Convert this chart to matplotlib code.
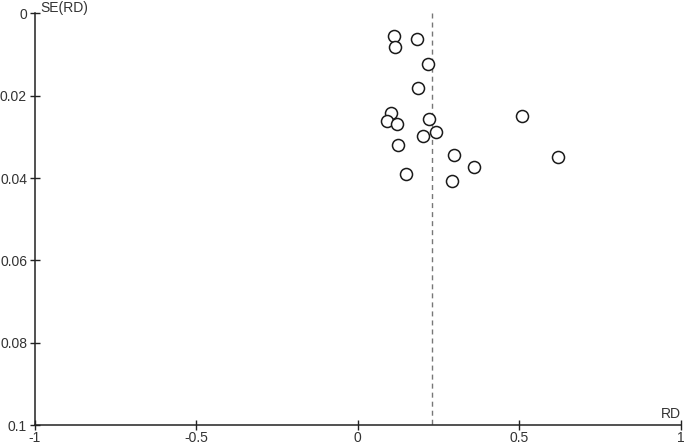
import matplotlib
matplotlib.use("Agg")
import matplotlib.pyplot as plt

plt.rcParams['font.family'] = ['Liberation Sans', 'DejaVu Sans']

rd = [0.111, 0.116, 0.183, 0.216, 0.186, 0.104, 0.089, 0.122, 0.219,
      0.508, 0.242, 0.202, 0.125, 0.299, 0.621, 0.360, 0.148, 0.292]
se = [0.0054, 0.0081, 0.0063, 0.0123, 0.0182, 0.0241, 0.0262, 0.0268, 0.0256,
      0.0250, 0.0287, 0.0298, 0.0320, 0.0343, 0.0349, 0.0372, 0.0389, 0.0407]
pooled_rd = 0.229
xticks = [-1, -0.5, 0, 0.5, 1]
xticklabels = ['-1', '-0.5', '0', '0.5', '1']
yticks = [0, 0.02, 0.04, 0.06, 0.08, 0.1]
yticklabels = ['0', '0.02', '0.04', '0.06', '0.08', '0.1']

fig = plt.figure(figsize=(6.85, 4.47), dpi=100)
ax = fig.add_axes([0.0507, 0.0492, 0.9433, 0.9208])

ax.plot([pooled_rd, pooled_rd], [0, 0.1], color='#777777', lw=1.0,
        dashes=(3.6, 2.9))
ax.scatter(rd, se, s=75, facecolors='white', edgecolors='#1a1a1a',
           linewidths=1.1, zorder=3)

ax.set_xlim(-1, 1)
ax.set_ylim(0.1, 0)
ax.set_xticks(xticks)
ax.set_xticklabels(xticklabels)
ax.set_yticks(yticks)
ax.set_yticklabels(yticklabels)
for s in ['top', 'right']:
    ax.spines[s].set_visible(False)
for s in ['left', 'bottom']:
    ax.spines[s].set_color('#222222')
    ax.spines[s].set_linewidth(1.1)
ax.tick_params(direction='inout', length=7, width=1.0, color='#222222',
               labelsize=10, labelcolor='#333333')
ax.tick_params(axis='x', pad=0.5)
ax.tick_params(axis='y', pad=2)

ax.annotate('SE(RD)', xy=(0, 1), xycoords='axes fraction',
            xytext=(4, 4), textcoords='offset points', fontsize=10,
            color='#333333', ha='left', va='center')
ax.annotate('RD', xy=(1, 0), xycoords='axes fraction',
            xytext=(0, 3), textcoords='offset points', fontsize=10,
            color='#333333', ha='right', va='bottom')

fig.savefig('out.png', dpi=100)
